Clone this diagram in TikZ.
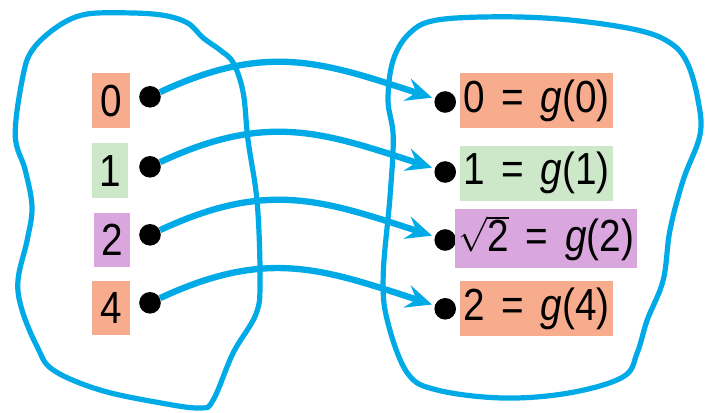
\documentclass[tikz,border=0pt]{standalone}
\usepackage{fontspec}
\setmainfont{Liberation Sans}[FakeStretch=0.86]
\usetikzlibrary{arrows.meta}
\definecolor{setblue}{RGB}{0,170,230}
\definecolor{tagorange}{RGB}{247,172,142}
\definecolor{taggreen}{RGB}{205,232,200}
\definecolor{tagpurple}{RGB}{218,166,222}
\newcommand{\eqsp}{\hspace{12pt}=\hspace{12pt}}

\begin{document}
\begin{tikzpicture}[every node/.style={font=\fontsize{32}{38}\selectfont},
    dot/.style={circle,fill=black,inner sep=0pt,minimum size=0.54cm},
    tag/.style={inner xsep=2pt,inner ysep=0pt,minimum height=1.37cm},
    blob/.style={setblue,line width=3.7pt,line join=round},
    map/.style={setblue,line width=4.5pt,-{Stealth[length=0.65cm,width=0.58cm,inset=0.24cm]},shorten >=2pt}]
          \useasboundingbox (0,0) rectangle (17.65,10.3);
          % Domain
          \draw[blob] plot[smooth cycle,tension=0.6] coordinates {(2.08,9.93) (2.93,9.98) (4.0,9.93) (4.68,9.73) (5.08,9.35) (5.5,9.05) (5.83,8.73) (6.08,7.98) (6.2,6.8) (6.43,5.23) (6.5,3.3) (6.4,2.45) (5.83,1.48) (5.33,0.3) (5.0,0.1) (4.0,0.23) (2.5,0.55) (1.33,1.05) (0.93,1.63) (0.55,2.55) (0.45,3.3) (0.68,4.3) (0.8,5.13) (0.63,6.05) (0.38,6.93) (0.58,8.43) (0.83,9.08) (1.43,9.63)};
          % Codomain
          \draw[blob] plot[smooth cycle,tension=0.6] coordinates {(10.93,9.8) (12.58,9.88) (14.25,9.8) (15.93,9.55) (16.75,9.23) (17.18,8.73) (17.45,7.8) (17.5,6.93) (17.08,5.8) (16.75,4.55) (16.58,3.3) (16.18,2.3) (15.93,1.48) (15.58,0.88) (14.25,0.48) (12.58,0.35) (10.93,0.55) (10.18,0.98) (9.68,2.3) (9.58,3.43) (9.75,5.38) (9.83,6.88) (9.7,7.8) (9.83,8.8) (10.25,9.48)};
          % Elements of the domain
          \node[tag,fill=tagorange,minimum width=0.95cm] (x0) at (2.78,7.78) {0};
          \node[tag,fill=taggreen,minimum width=0.92cm] (x1) at (2.75,6.03) {1};
          \node[tag,fill=tagpurple,minimum width=0.9cm] (x2) at (2.8,4.3) {2};
          \node[tag,fill=tagorange,minimum width=0.95cm] (x4) at (2.78,2.6) {4};
          \node[dot] (d0) at (3.75,7.88) {};
          \node[dot] (d1) at (3.75,6.13) {};
          \node[dot] (d2) at (3.75,4.43) {};
          \node[dot] (d4) at (3.75,2.73) {};
          % Images
          \node[dot] (g0) at (11.13,7.75) {};
          \node[dot] (g1) at (11.13,6.0) {};
          \node[dot] (g2) at (11.13,4.3) {};
          \node[dot] (g4) at (11.13,2.58) {};
          \node[tag,fill=tagorange,anchor=west] (y0) at (11.5,7.79) {0\eqsp\textit{g}(0)};
          \node[tag,fill=taggreen,anchor=west] (y1) at (11.5,5.97) {1\eqsp\textit{g}(1)};
          \node[tag,fill=tagpurple,anchor=west,minimum height=1.46cm] (y2) at (11.38,4.34) {$\sqrt{\mbox{2}}$\eqsp\textit{g}(2)};
          \node[tag,fill=tagorange,anchor=west] (y4) at (11.5,2.59) {2\eqsp\textit{g}(4)};
          % Arrows
          \draw[map] (d0) to[out=25,in=162,looseness=1.1] (g0);
          \draw[map] (d1) to[out=25,in=162,looseness=1.1] (g1);
          \draw[map] (d2) to[out=25,in=162,looseness=1.1] (g2);
          \draw[map] (d4) to[out=25,in=162,looseness=1.1] (g4);
        \end{tikzpicture}
\end{document}
